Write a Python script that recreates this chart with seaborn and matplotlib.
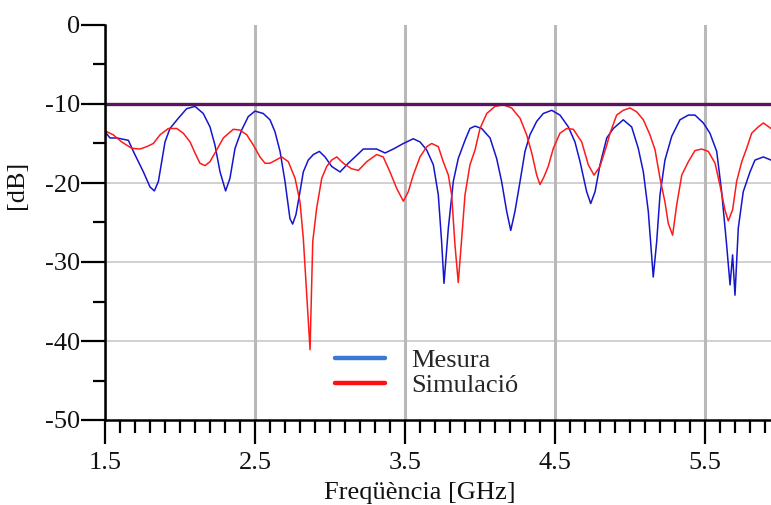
import matplotlib
matplotlib.use("Agg")
import numpy as np
import pandas as pd
import seaborn as sns
import matplotlib.pyplot as plt
from matplotlib.ticker import FixedLocator, MultipleLocator
from matplotlib.lines import Line2D

# Measured reflection coefficient (GHz, dB)
mesura_f = [1.500, 1.533, 1.580, 1.656, 1.689, 1.756, 1.800, 1.829, 1.856, 1.878,
            1.900, 1.933, 1.989, 2.044, 2.100, 2.155, 2.200, 2.233, 2.267, 2.304,
            2.333, 2.367, 2.411, 2.455, 2.500, 2.555, 2.600, 2.633, 2.667, 2.700,
            2.733, 2.751, 2.773, 2.800, 2.822, 2.855, 2.889, 2.929, 2.967, 3.011,
            3.067, 3.122, 3.178, 3.222, 3.311, 3.367, 3.422, 3.489, 3.555, 3.600,
            3.644, 3.689, 3.722, 3.744, 3.760, 3.789, 3.822, 3.855, 3.900, 3.933,
            3.967, 4.011, 4.067, 4.111, 4.144, 4.178, 4.205, 4.233, 4.267, 4.300,
            4.333, 4.378, 4.422, 4.478, 4.533, 4.589, 4.633, 4.667, 4.711, 4.738,
            4.767, 4.800, 4.845, 4.889, 4.955, 5.011, 5.055, 5.089, 5.122, 5.155,
            5.178, 5.200, 5.233, 5.278, 5.333, 5.389, 5.433, 5.489, 5.533, 5.578,
            5.611, 5.644, 5.667, 5.684, 5.700, 5.722, 5.755, 5.800, 5.833, 5.889,
            5.940]
mesura_db = [-13.5, -14.3, -14.3, -14.6, -16.0, -18.6, -20.5, -21.0, -19.8, -17.3,
             -14.8, -13.1, -11.8, -10.6, -10.3, -11.2, -12.9, -15.2, -18.6, -21.0,
             -19.4, -15.6, -13.3, -11.6, -10.9, -11.2, -12.0, -13.5, -16.0, -19.8,
             -24.5, -25.2, -24.0, -21.1, -18.6, -17.1, -16.4, -16.0, -16.7, -17.9,
             -18.6, -17.5, -16.5, -15.7, -15.7, -16.2, -15.7, -15.0, -14.4, -14.8,
             -15.8, -17.7, -21.5, -27.4, -32.7, -25.7, -19.8, -16.9, -14.6, -13.1,
             -12.8, -13.1, -14.3, -16.9, -19.8, -23.6, -26.0, -23.6, -19.8, -16.0,
             -13.9, -12.2, -11.2, -10.8, -11.4, -12.9, -14.8, -17.3, -21.1, -22.6,
             -21.1, -17.7, -14.3, -13.1, -12.0, -12.9, -15.6, -18.6, -23.6, -31.9,
             -27.4, -21.5, -17.1, -14.1, -12.0, -11.4, -11.4, -12.4, -13.7, -16.0,
             -21.1, -27.8, -32.9, -29.1, -34.2, -25.7, -21.1, -18.6, -17.1, -16.7,
             -17.1]

# Simulated reflection coefficient (GHz, dB)
sim_f = [1.500, 1.555, 1.611, 1.678, 1.733, 1.778, 1.822, 1.867, 1.922, 1.978,
         2.022, 2.067, 2.100, 2.133, 2.167, 2.200, 2.245, 2.289, 2.355, 2.400,
         2.445, 2.489, 2.533, 2.567, 2.600, 2.678, 2.722, 2.767, 2.800, 2.822,
         2.845, 2.867, 2.885, 2.911, 2.945, 2.978, 3.011, 3.045, 3.089, 3.144,
         3.189, 3.245, 3.311, 3.355, 3.400, 3.445, 3.489, 3.522, 3.555, 3.600,
         3.645, 3.678, 3.722, 3.755, 3.789, 3.811, 3.833, 3.855, 3.878, 3.900,
         3.933, 3.967, 4.000, 4.045, 4.100, 4.155, 4.211, 4.267, 4.311, 4.345,
         4.378, 4.400, 4.427, 4.455, 4.489, 4.533, 4.578, 4.622, 4.678, 4.722,
         4.760, 4.800, 4.845, 4.867, 4.911, 4.955, 5.000, 5.045, 5.089, 5.133,
         5.167, 5.200, 5.233, 5.255, 5.284, 5.311, 5.345, 5.389, 5.433, 5.478,
         5.522, 5.567, 5.600, 5.633, 5.655, 5.684, 5.711, 5.745, 5.778, 5.811,
         5.855, 5.889, 5.940]
sim_db = [-13.4, -13.9, -14.8, -15.6, -15.7, -15.4, -15.0, -13.9, -13.1, -13.1,
          -13.7, -14.8, -16.2, -17.5, -17.8, -17.3, -15.8, -14.3, -13.2, -13.3,
          -13.9, -15.2, -16.7, -17.5, -17.5, -16.7, -17.3, -19.4, -22.4, -27.0,
          -34.2, -41.1, -27.4, -23.2, -19.4, -17.9, -17.1, -16.7, -17.5, -18.2,
          -18.4, -17.3, -16.4, -16.7, -18.6, -20.7, -22.3, -21.1, -19.0, -16.7,
          -15.4, -15.0, -15.4, -17.3, -19.0, -21.5, -27.8, -32.6, -27.0, -21.5,
          -17.7, -15.8, -13.1, -11.2, -10.3, -10.1, -10.5, -11.8, -13.9, -16.2,
          -19.0, -20.2, -19.2, -17.9, -15.6, -13.7, -13.1, -13.2, -14.8, -17.7,
          -19.0, -17.9, -15.2, -13.7, -11.4, -10.8, -10.5, -11.0, -12.0, -13.9,
          -15.8, -19.4, -22.4, -25.1, -26.6, -22.8, -19.0, -17.3, -15.9, -15.7,
          -16.0, -17.5, -20.3, -23.4, -24.8, -23.4, -19.8, -17.3, -15.6, -13.7,
          -12.9, -12.4, -13.1]

limit_db = -10
series_names = ["Mesura", "Simulació"]
x_ticks = [1.5, 2.5, 3.5, 4.5, 5.5]
x_tick_labels = ["1.5", "2.5", "3.5", "4.5", "5.5"]
y_ticks = [0, -10, -20, -30, -40, -50]
y_tick_labels = ["0", "-10", "-20", "-30", "-40", "-50"]
y_grid_levels = [-20, -30, -40]

sns.set_style("white")
plt.rcParams["font.family"] = ["Liberation Serif", "DejaVu Serif"]
plt.rcParams["axes.unicode_minus"] = False

meas = pd.DataFrame({"f": mesura_f, "db": mesura_db})
sim = pd.DataFrame({"f": sim_f, "db": sim_db})

fig = plt.figure(figsize=(7.71, 5.05), dpi=100)
ax = fig.add_axes([105 / 771, 85 / 505, 666 / 771, 395 / 505])

# grid
ax.grid(axis="x", color="#b9b9b9", lw=2.2, zorder=0)
for lvl in y_grid_levels:
    ax.axhline(lvl, color="#c4c4c4", lw=1.1, zorder=0)

sns.lineplot(data=meas, x="f", y="db", ax=ax, color="#1515cc", lw=1.1,
             estimator=None, sort=False, zorder=3)
sns.lineplot(data=sim, x="f", y="db", ax=ax, color="#ff1a1a", lw=1.1,
             estimator=None, sort=False, zorder=4)
ax.axhline(limit_db, color="#5a1460", lw=2.4, zorder=5)

ax.set_xlim(1.5, 5.94)
ax.set_ylim(-50, 0)

ax.xaxis.set_major_locator(FixedLocator(x_ticks))
ax.set_xticklabels(x_tick_labels)
ax.xaxis.set_minor_locator(MultipleLocator(0.1))
ax.yaxis.set_major_locator(FixedLocator(y_ticks))
ax.set_yticklabels(y_tick_labels)
ax.yaxis.set_minor_locator(MultipleLocator(5))

ax.tick_params(axis="both", which="major", direction="out", length=17, width=1.6,
               labelsize=19, color="black", labelcolor="#111111", left=True, bottom=True)
ax.tick_params(axis="both", which="minor", direction="out", length=9, width=1.6,
               color="black", left=True, bottom=True)
ax.tick_params(axis="x", which="major", pad=6)
ax.tick_params(axis="y", which="major", pad=1)

for side in ("top", "right"):
    ax.spines[side].set_visible(False)
for side in ("left", "bottom"):
    ax.spines[side].set_linewidth(1.8)
    ax.spines[side].set_color("black")
    ax.spines[side].set_zorder(6)

ax.set_xlabel("Freqüència [GHz]", fontsize=19, color="#111111")
ax.xaxis.set_label_coords(0.473, -0.158)
ax.set_ylabel("[dB]", fontsize=19, color="#111111")
ax.yaxis.set_label_coords(-0.115, 0.595)

handles = [Line2D([], [], color="#3a78d4", lw=3.2, solid_capstyle="round"),
           Line2D([], [], color="#ff1010", lw=3.2, solid_capstyle="round")]
ax.legend(handles, series_names, loc="upper left",
          bbox_to_anchor=(335 / 771, 1 - 349 / 505), bbox_transform=fig.transFigure,
          frameon=False, fontsize=19, borderpad=0, borderaxespad=0,
          handlelength=1.9, handletextpad=1.0, labelspacing=0.05)

fig.savefig("out.png", dpi=100)
